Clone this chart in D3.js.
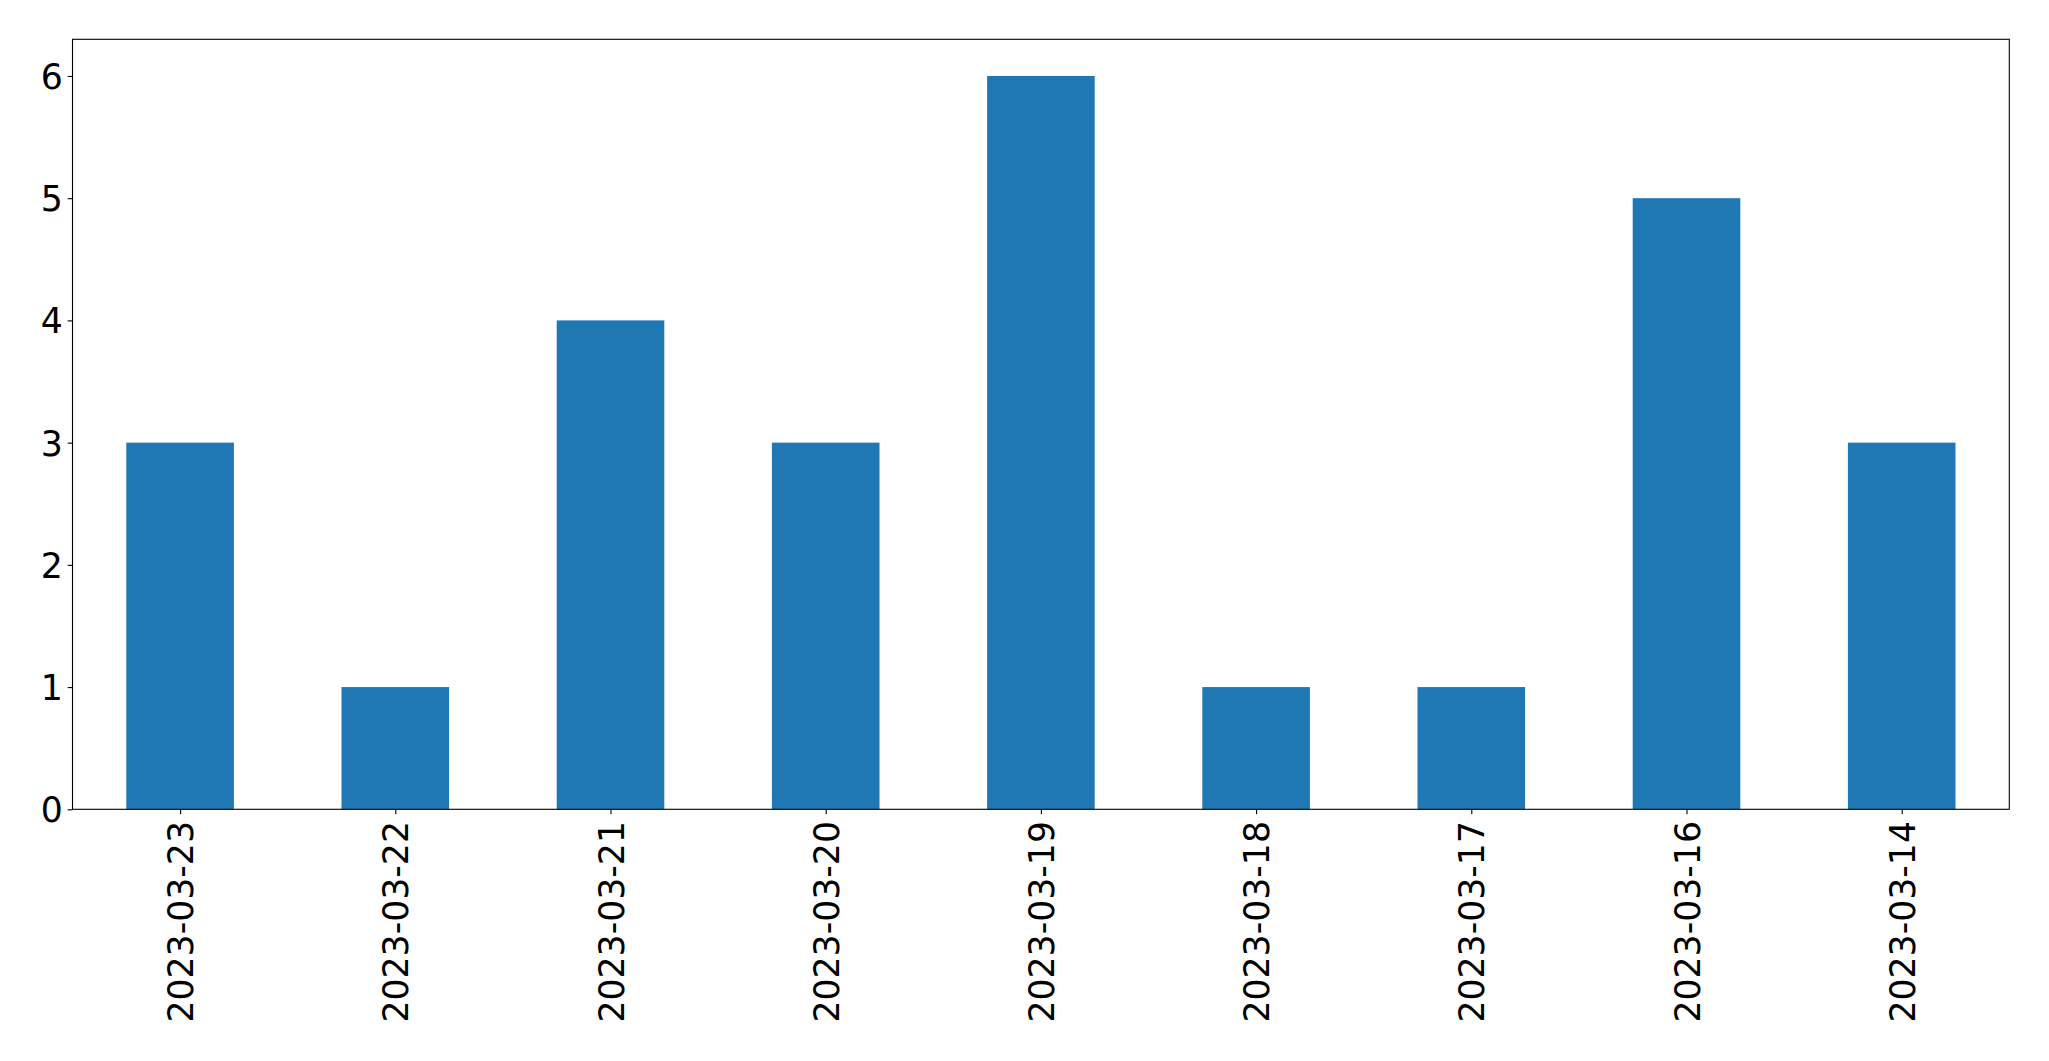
<!DOCTYPE html>
<html>
<head>
<meta charset="utf-8">
<script src="https://cdn.jsdelivr.net/npm/d3@7"></script>
<style>
  body { margin: 0; background: #fff; }
  svg { display: block; }
  .tick text { font-family: "DejaVu Sans", sans-serif; }
</style>
</head>
<body>
<div id="chart"></div>
<script>
const dates = ["2023-03-23", "2023-03-22", "2023-03-21", "2023-03-20", "2023-03-19",
               "2023-03-18", "2023-03-17", "2023-03-16", "2023-03-14"];
const counts = [3, 1, 4, 3, 6, 1, 1, 5, 3];
const yTicks = [0, 1, 2, 3, 4, 5, 6];

const w = 2049, h = 1061;
const plotLeft = 72.5, plotRight = 2009.3, plotTop = 39.3, plotBottom = 809.3;
const fontPx = 34.7, tickLen = 4.86, pad = 4.86;

const svg = d3.select("#chart")
              .append("svg")
              .attr("width", w)
              .attr("height", h);

// matplotlib-style bar positions: index -0.5 .. n-0.5
var xScale = d3.scaleLinear()
               .domain([-0.5, dates.length - 0.5])
               .range([plotLeft, plotRight]);

var yScale = d3.scaleLinear()
               .domain([0, d3.max(counts) * 1.05])
               .range([plotBottom, plotTop]);

svg.selectAll("rect.bar")
   .data(counts)
   .enter()
   .append("rect")
   .attr("class", "bar")
   .attr("x", (d, i) => xScale(i - 0.25))
   .attr("width", (d, i) => xScale(i + 0.25) - xScale(i - 0.25))
   .attr("y", d => yScale(d))
   .attr("height", d => yScale(0) - yScale(d))
   .attr("fill", "#1f77b4");

var yAxis = d3.axisLeft(yScale)
              .tickValues(yTicks)
              .tickFormat(d3.format("d"))
              .tickSize(tickLen)
              .tickPadding(pad);

var gy = svg.append("g")
            .attr("transform", "translate(" + plotLeft + ",0)")
            .call(yAxis);
gy.select(".domain").remove();
gy.selectAll(".tick line").attr("stroke", "#000").attr("stroke-width", 1.1);
gy.selectAll(".tick text")
  .attr("font-size", fontPx)
  .attr("fill", "#000")
  .attr("dy", "0.36em");

var xAxis = d3.axisBottom(xScale)
              .tickValues(d3.range(dates.length))
              .tickFormat(i => dates[i])
              .tickSize(tickLen)
              .tickPadding(pad);

var gx = svg.append("g")
            .attr("transform", "translate(0," + plotBottom + ")")
            .call(xAxis);
gx.select(".domain").remove();
gx.selectAll(".tick line").attr("stroke", "#000").attr("stroke-width", 1.1);
gx.selectAll(".tick text")
  .attr("font-size", fontPx)
  .attr("fill", "#000")
  .attr("text-anchor", "end")
  .attr("transform", "rotate(-90)")
  .attr("x", -(tickLen + pad + 2))
  .attr("y", 0)
  .attr("dy", "0.36em");

// axes frame
svg.append("rect")
   .attr("x", plotLeft)
   .attr("y", plotTop)
   .attr("width", plotRight - plotLeft)
   .attr("height", plotBottom - plotTop)
   .attr("fill", "none")
   .attr("stroke", "#000")
   .attr("stroke-width", 1.1);
</script>
</body>
</html>
